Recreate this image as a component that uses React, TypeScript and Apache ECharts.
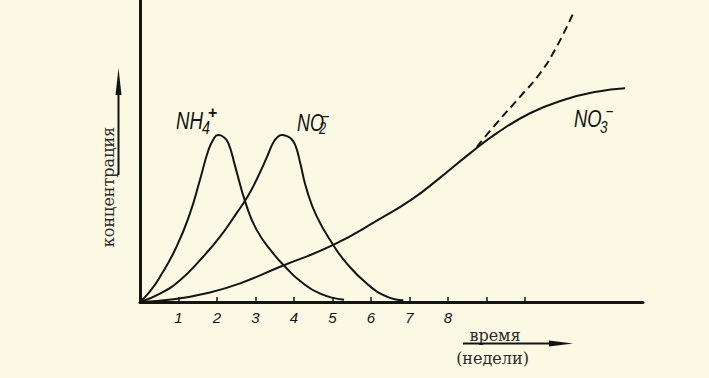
import React, { useEffect, useRef } from "react";
import * as echarts from "echarts";

// x = weeks, y = concentration (arbitrary units)
const nh4: number[][] = [
  [0, 0], [0.25, 6], [0.52, 15], [0.95, 33], [1.3, 53], [1.56, 73], [1.77, 90],
  [1.92, 97.5], [2.03, 99.5], [2.16, 98.5], [2.29, 95], [2.47, 81], [2.73, 60],
  [3.03, 43], [3.46, 29], [3.77, 21], [4.16, 12.5], [4.68, 5], [5.3, 1.3],
];
const no2: number[][] = [
  [0, 0], [0.52, 5], [1.04, 13], [1.56, 25], [2.08, 39], [2.51, 53], [2.8, 63],
  [3.03, 73], [3.29, 86], [3.46, 95], [3.58, 98.5], [3.68, 99.5], [3.8, 99],
  [3.94, 97], [4.05, 92.5], [4.16, 83], [4.33, 67], [4.59, 51], [5.02, 34],
  [5.37, 23], [5.89, 11], [6.41, 3.2], [6.84, 1],
];
const no3: number[][] = [
  [0, 0], [0.87, 1.6], [1.73, 5.2], [2.6, 11.1], [3.64, 21], [5.02, 34],
  [6.23, 49.5], [7.05, 61], [7.79, 74], [8.57, 88.6], [9.26, 100.5], [10.13, 112.5],
  [11, 120.4], [11.86, 125.3], [12.6, 127.4],
];
const no3Dashed: number[][] = [
  [8.75, 92.5], [9.26, 106.5], [9.87, 122.3], [10.39, 136.3], [10.82, 152.1], [11.25, 172],
];
const tickValues = [1, 2, 3, 4, 5, 6, 7, 8, 9, 10];
const labelValues = [1, 2, 3, 4, 5, 6, 7, 8];
const xMax = 13.065;
const yMax = 180;

const INK = "#141414";
const BG = "#fbf9e3";

export default function App() {
  const ref = useRef<HTMLDivElement>(null);
  useEffect(() => {
    document.body.style.margin = "0";
    document.body.style.background = BG;
    const chart = echarts.init(ref.current!, undefined, { renderer: "svg" });
    const lineSeries = (name: string, data: number[][], dashed = false) => ({
      type: "line",
      name,
      data,
      showSymbol: false,
      smooth: 0.5,
      lineStyle: { color: INK, width: 2, type: dashed ? [8, 5] : "solid" },
      silent: true,
    });
    const hand = "Liberation Sans";
    const type = '"DejaVu Serif", serif';
    chart.setOption({
      animation: false,
      backgroundColor: BG,
      grid: { left: 140, right: 66, top: 0, bottom: 76 },
      xAxis: {
        type: "value",
        min: 0,
        max: xMax,
        splitLine: { show: false },
        axisLine: { show: true, lineStyle: { color: INK, width: 3 } },
        axisTick: {
          show: true,
          inside: true,
          length: 5,
          customValues: tickValues,
          lineStyle: { color: INK, width: 1.5 },
        },
        axisLabel: {
          customValues: labelValues,
          margin: 8,
          color: INK,
          fontSize: 15,
          fontStyle: "italic",
          fontFamily: hand,
        },
      },
      yAxis: {
        type: "value",
        min: 0,
        max: yMax,
        splitLine: { show: false },
        axisLine: { show: true, lineStyle: { color: INK, width: 3 } },
        axisTick: { show: false },
        axisLabel: { show: false },
      },
      series: [
        lineSeries("NH4+", nh4),
        lineSeries("NO2-", no2),
        lineSeries("NO3-", no3),
        lineSeries("NO3- dashed", no3Dashed, true),
      ],
      graphic: [
        // y axis title and arrow
        {
          type: "text",
          x: 108,
          y: 187,
          rotation: Math.PI / 2,
          style: {
            text: "концентрация",
            font: `16px ${type}`,
            fill: "#2a2a2a",
            align: "center",
            verticalAlign: "middle",
          },
        },
        {
          type: "line",
          shape: { x1: 118.5, y1: 175, x2: 118.5, y2: 88 },
          style: { stroke: INK, lineWidth: 2 },
        },
        {
          type: "polygon",
          shape: { points: [[118.5, 68], [115.5, 95], [121.5, 95]] },
          style: { fill: INK },
        },
        // x axis title and arrow
        {
          type: "text",
          x: 495,
          y: 335,
          style: {
            text: "время",
            font: `16px ${type}`,
            fill: "#2a2a2a",
            align: "center",
            verticalAlign: "middle",
          },
        },
        {
          type: "line",
          shape: { x1: 463, y1: 343.5, x2: 555, y2: 343.5 },
          style: { stroke: INK, lineWidth: 2 },
        },
        {
          type: "polygon",
          shape: { points: [[573, 343.5], [549, 340.5], [549, 346.5]] },
          style: { fill: INK },
        },
        {
          type: "text",
          x: 492.5,
          y: 358,
          style: {
            text: "(недели)",
            font: `16px ${type}`,
            fill: "#2a2a2a",
            align: "center",
            verticalAlign: "middle",
          },
        },
        // NH4+
        {
          type: "text", x: 176, y: 121, scaleX: 0.78,
          style: { text: "NH", font: `italic 24px ${hand}`, fill: INK, align: "left", verticalAlign: "middle" },
        },
        {
          type: "text", x: 202, y: 127, scaleX: 0.8,
          style: { text: "4", font: `italic 18px ${hand}`, fill: INK, align: "left", verticalAlign: "middle" },
        },
        {
          type: "text", x: 208, y: 112,
          style: { text: "+", font: `bold 16px ${hand}`, fill: INK, align: "left", verticalAlign: "middle" },
        },
        // NO2-
        {
          type: "text", x: 297, y: 123, scaleX: 0.75,
          style: { text: "NO", font: `italic 24px ${hand}`, fill: INK, align: "left", verticalAlign: "middle" },
        },
        {
          type: "text", x: 319, y: 128, scaleX: 0.8,
          style: { text: "2", font: `italic 16px ${hand}`, fill: INK, align: "left", verticalAlign: "middle" },
        },
        {
          type: "text", x: 322, y: 115,
          style: { text: "–", font: `bold 13px ${hand}`, fill: INK, align: "left", verticalAlign: "middle" },
        },
        // NO3-
        {
          type: "text", x: 574, y: 118.5, scaleX: 0.8,
          style: { text: "NO", font: `italic 23px ${hand}`, fill: INK, align: "left", verticalAlign: "middle" },
        },
        {
          type: "text", x: 600, y: 127, scaleX: 0.8,
          style: { text: "3", font: `italic 17px ${hand}`, fill: INK, align: "left", verticalAlign: "middle" },
        },
        {
          type: "text", x: 606, y: 110.5,
          style: { text: "–", font: `bold 13px ${hand}`, fill: INK, align: "left", verticalAlign: "middle" },
        },
      ],
    });
    return () => chart.dispose();
  }, []);
  return <div ref={ref} style={{ width: 709, height: 378 }} />;
}
